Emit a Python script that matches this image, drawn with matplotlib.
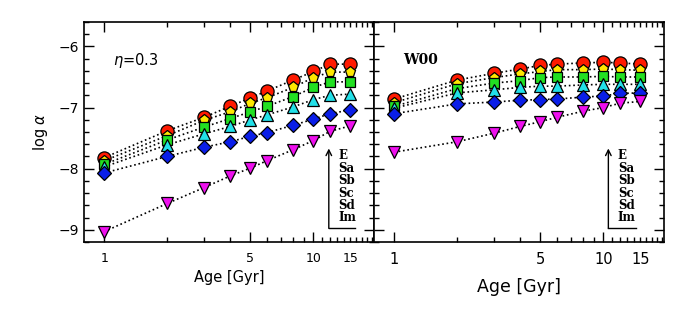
import numpy as np
import matplotlib.pyplot as plt
from matplotlib.ticker import FixedLocator, FixedFormatter

# ages in Gyr
ages = [1, 2, 3, 4, 5, 6, 8, 10, 12, 15]
types = ['E', 'Sa', 'Sb', 'Sc', 'Sd', 'Im']

# log alpha, eta = 0.3 model
eta_E = [-7.82, -7.38, -7.16, -6.98, -6.84, -6.73, -6.55, -6.41, -6.29, -6.29]
eta_Sa = [-7.87, -7.46, -7.21, -7.07, -6.93, -6.84, -6.67, -6.51, -6.42, -6.42]
eta_Sb = [-7.93, -7.53, -7.32, -7.18, -7.07, -6.98, -6.82, -6.67, -6.58, -6.58]
eta_Sc = [-7.97, -7.61, -7.43, -7.31, -7.20, -7.12, -6.99, -6.87, -6.80, -6.78]
eta_Sd = [-8.07, -7.80, -7.65, -7.56, -7.47, -7.41, -7.29, -7.19, -7.10, -7.04]
eta_Im = [-9.03, -8.57, -8.31, -8.12, -7.99, -7.87, -7.69, -7.54, -7.39, -7.30]

# log alpha, W00 model
w00_E = [-6.86, -6.55, -6.44, -6.37, -6.31, -6.29, -6.27, -6.26, -6.27, -6.29]
w00_Sa = [-6.92, -6.61, -6.51, -6.45, -6.41, -6.38, -6.38, -6.37, -6.38, -6.39]
w00_Sb = [-6.98, -6.69, -6.60, -6.56, -6.51, -6.50, -6.50, -6.49, -6.50, -6.50]
w00_Sc = [-7.01, -6.76, -6.71, -6.67, -6.65, -6.65, -6.63, -6.62, -6.62, -6.62]
w00_Sd = [-7.10, -6.94, -6.91, -6.88, -6.87, -6.86, -6.83, -6.81, -6.77, -6.76]
w00_Im = [-7.73, -7.56, -7.42, -7.31, -7.23, -7.16, -7.06, -7.00, -6.93, -6.90]

eta_series = [eta_E, eta_Sa, eta_Sb, eta_Sc, eta_Sd, eta_Im]
w00_series = [w00_E, w00_Sa, w00_Sb, w00_Sc, w00_Sd, w00_Im]

# marker styles per type
markers = ['o', 'p', 's', '^', 'D', 'v']
sizes = [9.5, 8, 6.5, 8, 7.5, 8.5]
colors = ['#ff1a00', '#ffe800', '#22e022', '#22e0e8', '#0a1ee8', '#ee10ee']

fig = plt.figure(figsize=(6.89, 3.10), dpi=100)
ax1 = fig.add_axes([0.1219, 0.2194, 0.421, 0.7097])
ax2 = fig.add_axes([0.5428, 0.2194, 0.421, 0.7097], sharey=ax1)


def draw(ax, series, tick_fs, label_fs, lpad, note, note_kw, lx):
    for vals in series:
        ax.plot(ages, vals, ls=':', color='black', lw=1.2, zorder=1)
    for vals, m, s, c in zip(series, markers, sizes, colors):
        ax.plot(ages, vals, ls='none', marker=m, ms=s, mfc=c, mec='black',
                mew=0.9, zorder=2)

    ax.set_xscale('log')
    ax.set_xlim(0.8, 19.5)
    ax.set_ylim(-9.2, -5.6)
    ax.xaxis.set_major_locator(FixedLocator([1, 5, 10]))
    ax.xaxis.set_major_formatter(FixedFormatter(['1', '5', '10']))
    minors = [2, 3, 4, 6, 7, 8, 9] + list(range(11, 20))
    ax.xaxis.set_minor_locator(FixedLocator(minors))
    ax.xaxis.set_minor_formatter(FixedFormatter(['15' if v == 15 else '' for v in minors]))
    ax.yaxis.set_major_locator(FixedLocator([-9, -8, -7, -6]))
    ax.yaxis.set_minor_locator(FixedLocator(np.arange(-9.2, -5.5, 0.2)))

    ax.tick_params(which='both', direction='in', top=True, right=True,
                   width=1.0, labelsize=tick_fs)
    ax.tick_params(which='major', length=7.5)
    ax.tick_params(which='minor', length=3.5)
    ax.tick_params(axis='x', which='both', pad=7)
    for sp in ax.spines.values():
        sp.set_linewidth(1.2)

    ax.set_xlabel('Age [Gyr]', fontsize=label_fs, labelpad=lpad)
    ax.text(0.10, 0.825, note, transform=ax.transAxes,
            va='center', ha='left', **note_kw)

    # type sequence legend with arrow
    x0, x1 = lx
    ax.annotate('', xy=(x0, 0.425), xytext=(x0, 0.062), xycoords='axes fraction',
                arrowprops=dict(arrowstyle='->', lw=1.0, color='black',
                                shrinkA=0, shrinkB=0, mutation_scale=10))
    ax.plot([x0, x1], [0.0636, 0.0636], color='black', lw=1.0,
            transform=ax.transAxes, clip_on=False)
    for i, t in enumerate(types):
        ax.text(x0 + 0.033, 0.392 - i * 0.0565, t, transform=ax.transAxes,
                ha='left', va='center', fontsize=8.5, fontweight='bold',
                family='DejaVu Serif')


draw(ax1, eta_series, 9, 10.5, 4, r'$\eta$=0.3', dict(fontsize=10.5), (0.844, 0.934))
draw(ax2, w00_series, 10.5, 12.5, 8, 'W00',
     dict(fontsize=10, fontweight='bold', family='DejaVu Serif'), (0.808, 0.903))

ax1.set_ylabel(r'log $\alpha$', fontsize=10.5, labelpad=6)
ax1.tick_params(axis='y', labelsize=10)
plt.setp(ax2.get_yticklabels(), visible=False)

fig.savefig('out.png', dpi=100)
